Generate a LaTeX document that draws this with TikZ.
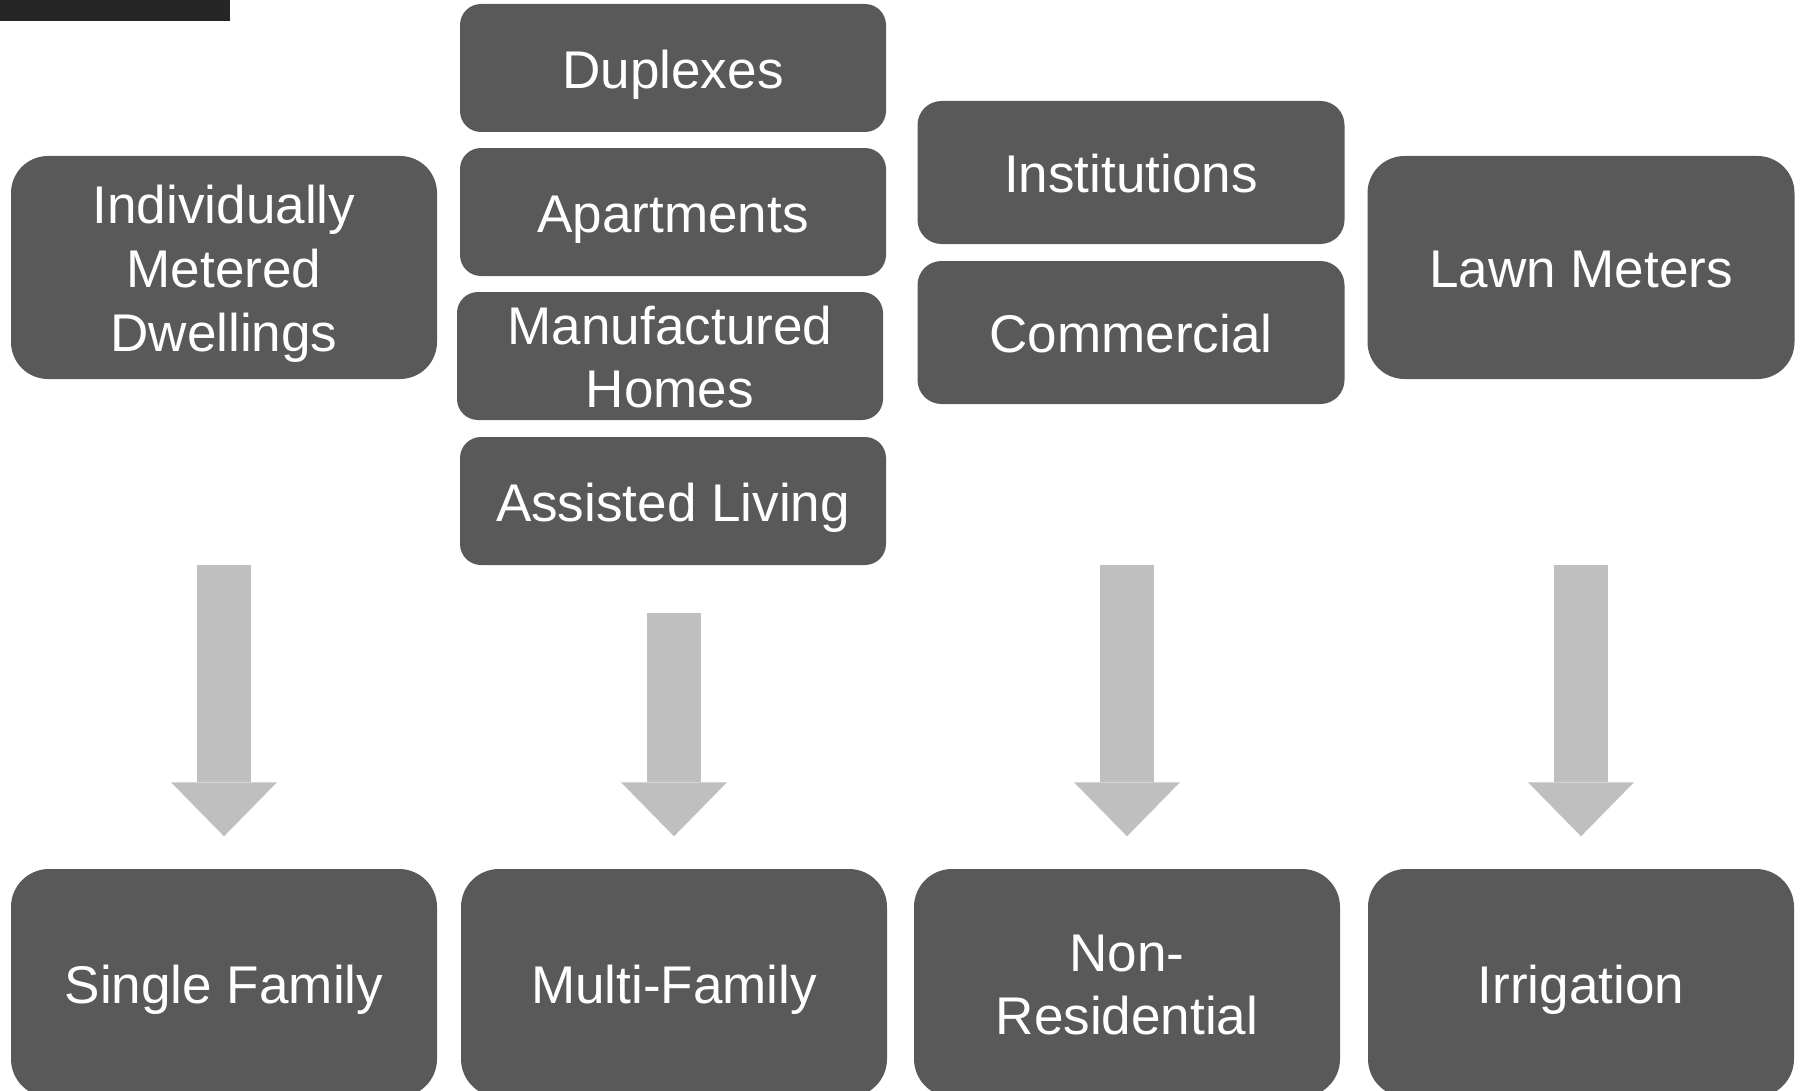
\documentclass[tikz,border=0pt]{standalone}
\usepackage{fontspec}
\setmainfont{Liberation Sans}
\usetikzlibrary{arrows.meta}
\definecolor{boxgray}{HTML}{595959}
\definecolor{arrowgray}{HTML}{BFBFBF}
\definecolor{bargray}{HTML}{262626}
\tikzset{every node/.style={rectangle,fill=boxgray,text=white,align=center,inner sep=0pt,
  font=\fontsize{15.1}{18.1}\selectfont,text height=11.4pt,text depth=0pt}}
\tikzset{two/.style={text height=29.5pt}}
\tikzset{three/.style={text height=47.6pt}}
\tikzset{big/.style={minimum width=4.26cm,minimum height=2.23cm,rounded corners=0.37cm}}
\tikzset{mid/.style={minimum width=4.27cm,minimum height=1.43cm,rounded corners=0.24cm}}
\tikzset{small/.style={minimum width=4.26cm,minimum height=1.28cm,rounded corners=0.21cm}}
\tikzset{cat/.style={big,minimum height=2.28cm,rounded corners=0.38cm}}
\tikzset{down/.style={draw=arrowgray,line width=0.54cm,-{Triangle[length=0.54cm,width=1.06cm,line width=0pt]}}}

\begin{document}
\begin{tikzpicture}
      \useasboundingbox (0,0) rectangle (18.03,10.90);
      \fill[bargray] (0,10.69) rectangle (2.30,10.90);
      % meter types
      \node[big,three] (IMD) at (2.24,8.225) {Individually\\Metered\\Dwellings};
      \node[small] (Dup) at (6.73,10.22) {Duplexes};
      \node[small] (Apt) at (6.73,8.78) {Apartments};
      \node[small,two] (Man) at (6.70,7.34) {Manufactured\\Homes};
      \node[small] (Ast) at (6.73,5.89) {Assisted Living};
      \node[mid] (Ins) at (11.31,9.175) {Institutions};
      \node[mid] (Com) at (11.31,7.575) {Commercial};
      \node[big,minimum width=4.27cm] (Lawn) at (15.81,8.225) {Lawn Meters};
      % customer classes
      \node[cat] (SF) at (2.24,1.07) {Single Family};
      \node[cat] (MF) at (6.74,1.07) {Multi-Family};
      \node[cat,two] (NR) at (11.27,1.07) {Non-\\Residential};
      \node[cat] (IR) at (15.81,1.07) {Irrigation};
      \coordinate (s1) at (2.24,5.25);
      \coordinate (s2) at (6.74,4.77);
      \coordinate (s3) at (11.27,5.25);
      \coordinate (s4) at (15.81,5.25);
      \foreach \a/\b in {s1/SF,s2/MF,s3/NR,s4/IR}
        \draw[down] (\a) -- ([yshift=0.32cm]\b.north);
\end{tikzpicture}
\end{document}
